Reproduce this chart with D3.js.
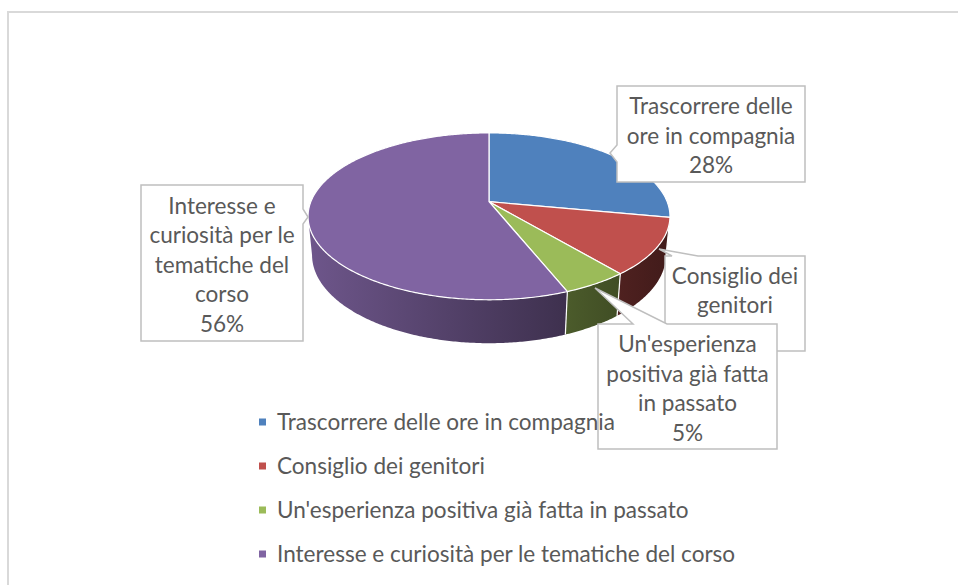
<!DOCTYPE html>
<html>
<head>
<meta charset="utf-8">
<script src="https://cdn.jsdelivr.net/npm/d3@7"></script>
<style>
  body { margin: 0; background: #fff; }
  svg { display: block; }
</style>
</head>
<body>
<div id="chart"></div>
<script>
const categories = [
    "Trascorrere delle ore in compagnia",
    "Consiglio dei genitori",
    "Un'esperienza positiva già fatta in passato",
    "Interesse e curiosità per le tematiche del corso"
]
const values = [28, 11, 5, 56]
const colors = ["#4F81BD", "#C0504D", "#9BBB59", "#8064A2"]
// how the data labels wrap inside their boxes
const labelLines = [
    ["Trascorrere delle", "ore in compagnia"],
    ["Consiglio dei", "genitori"],
    ["Un'esperienza", "positiva già fatta", "in passato"],
    ["Interesse e", "curiosità per le", "tematiche del", "corso"]
]
// the red label's percentage sits under the green box in the original
const showPct = [true, false, true, true]

const width = 958,
    height = 585
const textColor = "#595959"
const font = "Lato, 'Open Sans', sans-serif"

var svg = d3.select("#chart")
    .append("svg")
    .attr("width", width)
    .attr("height", height)

// chart area border (runs off the right / bottom of the picture)
svg.append("rect")
    .attr("x", 8).attr("y", 12)
    .attr("width", 1200).attr("height", 1200)
    .attr("fill", "#fff")
    .attr("stroke", "#d9d9d9")
    .attr("stroke-width", 2)

// fit font size to the width of the Calibri legend text
var probe = svg.append("text")
    .attr("font-family", font)
    .attr("font-size", 24)
    .text(categories[0])
var fontSize = 24 * 338 / probe.node().getComputedTextLength()
probe.remove()
var lineH = 29.5

// perspective projection of the pie disc
const cx = 489, vy = 201.7, S = 905, Dr = 5.08,
    phi = 27 * Math.PI / 180, depthH = 0.245
function proj(theta, w) {
    var X = Math.sin(theta), U = Math.cos(theta)
    var depth = Dr + U * Math.cos(phi) - w * Math.sin(phi)
    return [cx + S * X / depth, vy - S * (U * Math.sin(phi) + w * Math.cos(phi)) / depth]
}
function arcPts(a0, a1, w) {
    var n = Math.max(2, Math.ceil(Math.abs(a1 - a0) / 0.01))
    return d3.range(n + 1).map(i => proj(a0 + (a1 - a0) * i / n, w))
}
var line = d3.line()

var pie = d3.pie().sort(null).value(d => d)
var arcs = pie(values)
var total = d3.sum(values)
var pct = d3.format(".0%")

// side gradients, lit from the left
var defs = svg.append("defs")
arcs.forEach((a, i) => {
    var g = defs.append("linearGradient")
        .attr("id", "side" + i)
        .attr("gradientUnits", "userSpaceOnUse")
        .attr("x1", 308).attr("x2", 670).attr("y1", 0).attr("y2", 0)
    var c = d3.rgb(colors[i])
    ;[[0, 0.86], [0.45, 0.62], [1, 0.34]].forEach(s => {
        g.append("stop")
            .attr("offset", s[0])
            .attr("stop-color", d3.rgb(c.r * s[1], c.g * s[1], c.b * s[1]))
    })
})

var thMin = Math.acos(-Math.cos(phi) / Dr),
    thMax = 2 * Math.PI - thMin

// outer walls, front half only
var walls = svg.append("g").attr("class", "walls")
arcs.forEach((a, i) => {
    var s = Math.max(a.startAngle, thMin), e = Math.min(a.endAngle, thMax)
    if (e <= s) return
    var pts = arcPts(s, e, 0).concat(arcPts(e, s, -depthH))
    walls.append("path")
        .attr("d", line(pts) + "Z")
        .attr("fill", "url(#side" + i + ")")
})
// white seams between the walls
arcs.forEach(a => {
    var t = a.startAngle
    if (t <= thMin || t >= thMax) return
    walls.append("path")
        .attr("d", line([proj(t, 0), proj(t, -depthH)]))
        .attr("stroke", "#fff").attr("stroke-width", 1.2)
})

// top faces
svg.append("g")
    .attr("class", "tops")
    .selectAll("path")
    .data(arcs)
    .enter()
    .append("path")
    .attr("d", d => line([[cx, vy]].concat(arcPts(d.startAngle, d.endAngle, 0))) + "Z")
    .attr("fill", (d, i) => colors[i])
    .attr("stroke", "#fff")
    .attr("stroke-width", 1.2)
    .attr("stroke-linejoin", "round")

// data label callouts
const boxes = [
    { x: 617, y: 86, w: 188, h: 96, side: "left", b0: 145, b1: 162, tip: [610, 153] },
    { x: 665, y: 256, w: 140, h: 95, side: "top", b0: 672, b1: 698, tip: [659, 249] },
    { x: 598, y: 324, w: 179, h: 125, side: "top", b0: 633, b1: 667, tip: [595, 288] },
    { x: 141, y: 185, w: 162, h: 156, side: "right", b0: 209, b1: 224, tip: [308, 217] }
]
function callout(b) {
    var x0 = b.x, y0 = b.y, x1 = b.x + b.w, y1 = b.y + b.h
    var p = [[x0, y0]]
    if (b.side == "top") p.push([b.b0, y0], b.tip, [b.b1, y0])
    p.push([x1, y0])
    if (b.side == "right") p.push([x1, b.b0], b.tip, [x1, b.b1])
    p.push([x1, y1], [x0, y1])
    if (b.side == "left") p.push([x0, b.b1], b.tip, [x0, b.b0])
    return line(p) + "Z"
}

var labels = svg.append("g").attr("class", "labels")
arcs.forEach((a, i) => {
    var b = boxes[i]
    var g = labels.append("g")
    g.append("path")
        .attr("d", callout(b))
        .attr("fill", "#fff")
        .attr("stroke", "#bfbfbf")
        .attr("stroke-width", 1.5)
    var lines = labelLines[i].concat(showPct[i] ? [pct(a.data / total)] : [])
    var n = labelLines[i].length + 1
    var y0 = b.y + b.h / 2 - (n - 1) * lineH / 2 + 2
    g.selectAll("text")
        .data(lines)
        .enter()
        .append("text")
        .attr("x", b.x + b.w / 2)
        .attr("y", (d, j) => y0 + j * lineH)
        .attr("dy", "0.35em")
        .attr("text-anchor", "middle")
        .attr("font-family", font)
        .attr("font-size", fontSize)
        .attr("fill", textColor)
        .text(d => d)
})

// legend
var ly = d3.scaleBand().domain(categories).range([400, 576])
var legend = svg.append("g")
    .attr("class", "legend")
    .selectAll("g")
    .data(categories)
    .enter()
    .append("g")
    .attr("transform", d => `translate(259,${ly(d) + ly.bandwidth() / 2})`)
legend.append("rect")
    .attr("x", 0).attr("y", -3.5)
    .attr("width", 7).attr("height", 7)
    .attr("fill", (d, i) => colors[i])
legend.append("text")
    .attr("x", 18)
    .attr("dy", "0.35em")
    .attr("font-family", font)
    .attr("font-size", fontSize)
    .attr("fill", textColor)
    .text(d => d)
</script>
</body>
</html>
